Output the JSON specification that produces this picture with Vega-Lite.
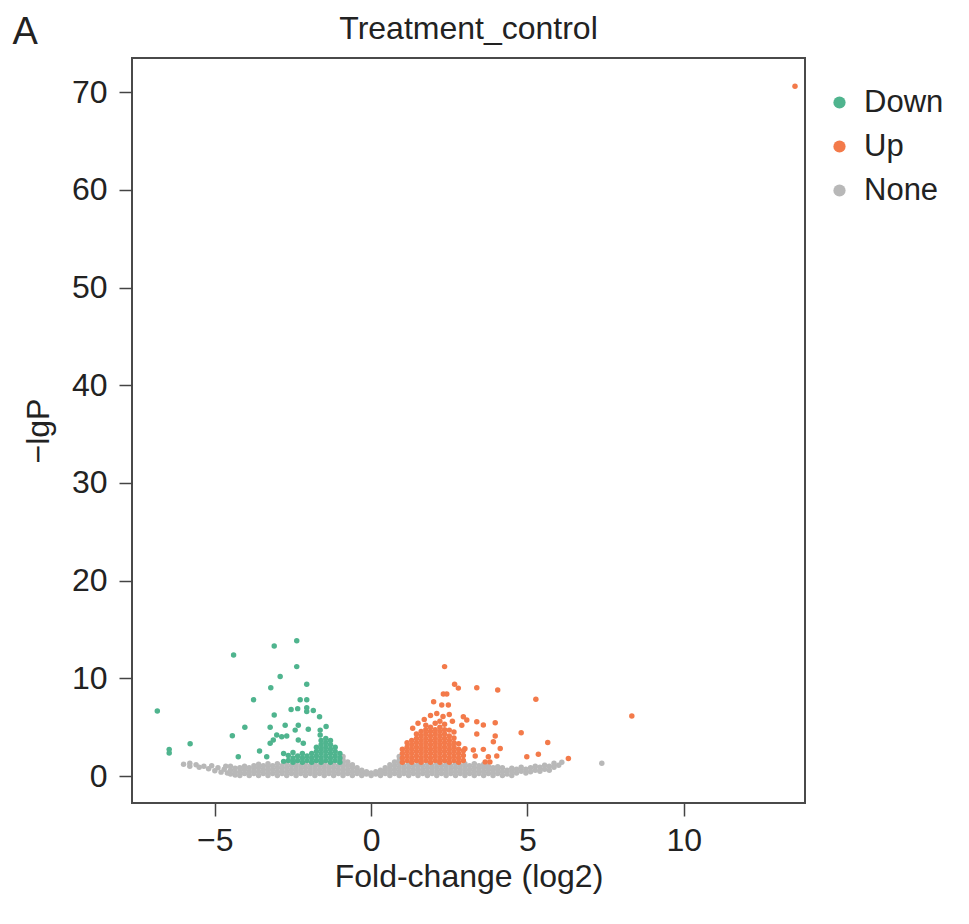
{
"$schema": "https://vega.github.io/schema/vega-lite/v6.json",
"width": 673, "height": 745,
"autosize": "none",
"padding": {"left": 132, "top": 58, "right": 164, "bottom": 121},
"background": "white",
"config": {
  "font": "Liberation Sans",
  "view": {"stroke": "#4a4a4a", "strokeWidth": 2},
  "axis": {"labelFont": "Liberation Sans", "labelFontSize": 32, "labelColor": "#222", "tickColor": "#444", "tickSize": 13, "tickWidth": 1.5, "domain": false, "grid": false, "titleFont": "Liberation Sans", "titleFontSize": 32, "titleFontWeight": "normal", "titleColor": "#222"},
  "legend": {"labelFont": "Liberation Sans", "labelFontSize": 31, "labelColor": "#222"}
},
"title": {"text": "Treatment_control", "font": "Liberation Sans", "fontSize": 32, "fontWeight": "normal", "color": "#222", "anchor": "middle", "baseline": "alphabetic", "offset": 0, "dy": 58},
"layer": [
{
"data": {"values": [
{"x":-6.0,"y":1.2,"g":"None"},{"x":-5.8,"y":1.0,"g":"None"},{"x":-5.8,"y":1.3,"g":"None"},{"x":-5.6,"y":1.15,"g":"None"},{"x":-5.5,"y":0.9,"g":"None"},{"x":-5.35,"y":1.0,"g":"None"},{"x":-5.2,"y":0.75,"g":"None"},{"x":-5.1,"y":1.05,"g":"None"},{"x":-5.0,"y":0.55,"g":"None"},{"x":-4.9,"y":0.85,"g":"None"},{"x":-4.8,"y":0.4,"g":"None"},{"x":-4.7,"y":0.7,"g":"None"},{"x":-4.65,"y":1.0,"g":"None"},{"x":-4.6,"y":0.3,"g":"None"},
{"x":-4.5,"y":0.2,"g":"None"},{"x":-4.5,"y":0.6,"g":"None"},{"x":-4.5,"y":1.0,"g":"None"},
{"x":-4.35,"y":0.1,"g":"None"},{"x":-4.35,"y":0.4,"g":"None"},{"x":-4.35,"y":0.8,"g":"None"},
{"x":-4.2,"y":0.05,"g":"None"},{"x":-4.2,"y":0.45,"g":"None"},{"x":-4.2,"y":0.85,"g":"None"},
{"x":-4.05,"y":0.25,"g":"None"},{"x":-4.05,"y":0.65,"g":"None"},{"x":-4.05,"y":1.0,"g":"None"},
{"x":-3.9,"y":0.05,"g":"None"},{"x":-3.9,"y":0.45,"g":"None"},{"x":-3.9,"y":0.85,"g":"None"},
{"x":-3.75,"y":0.25,"g":"None"},{"x":-3.75,"y":0.65,"g":"None"},{"x":-3.75,"y":1.05,"g":"None"},
{"x":-3.6,"y":0.05,"g":"None"},{"x":-3.6,"y":0.45,"g":"None"},{"x":-3.6,"y":0.85,"g":"None"},{"x":-3.6,"y":1.2,"g":"None"},
{"x":-3.45,"y":0.25,"g":"None"},{"x":-3.45,"y":0.65,"g":"None"},{"x":-3.45,"y":1.05,"g":"None"},
{"x":-3.3,"y":0.05,"g":"None"},{"x":-3.3,"y":0.45,"g":"None"},{"x":-3.3,"y":0.85,"g":"None"},{"x":-3.3,"y":1.25,"g":"None"},
{"x":-3.15,"y":0.25,"g":"None"},{"x":-3.15,"y":0.65,"g":"None"},{"x":-3.15,"y":1.05,"g":"None"},
{"x":-3.0,"y":0.05,"g":"None"},{"x":-3.0,"y":0.45,"g":"None"},{"x":-3.0,"y":0.85,"g":"None"},{"x":-3.0,"y":1.25,"g":"None"},
{"x":-2.85,"y":0.25,"g":"None"},{"x":-2.85,"y":0.65,"g":"None"},{"x":-2.85,"y":1.05,"g":"None"},
{"x":-2.7,"y":0.05,"g":"None"},{"x":-2.7,"y":0.45,"g":"None"},{"x":-2.7,"y":0.85,"g":"None"},{"x":-2.7,"y":1.25,"g":"None"},
{"x":-2.55,"y":0.25,"g":"None"},{"x":-2.55,"y":0.65,"g":"None"},{"x":-2.55,"y":1.05,"g":"None"},
{"x":-2.4,"y":0.05,"g":"None"},{"x":-2.4,"y":0.45,"g":"None"},{"x":-2.4,"y":0.85,"g":"None"},{"x":-2.4,"y":1.25,"g":"None"},
{"x":-2.25,"y":0.25,"g":"None"},{"x":-2.25,"y":0.65,"g":"None"},{"x":-2.25,"y":1.05,"g":"None"},
{"x":-2.1,"y":0.05,"g":"None"},{"x":-2.1,"y":0.45,"g":"None"},{"x":-2.1,"y":0.85,"g":"None"},{"x":-2.1,"y":1.25,"g":"None"},
{"x":-1.95,"y":0.25,"g":"None"},{"x":-1.95,"y":0.65,"g":"None"},{"x":-1.95,"y":1.05,"g":"None"},
{"x":-1.8,"y":0.05,"g":"None"},{"x":-1.8,"y":0.45,"g":"None"},{"x":-1.8,"y":0.85,"g":"None"},{"x":-1.8,"y":1.25,"g":"None"},
{"x":-1.65,"y":0.25,"g":"None"},{"x":-1.65,"y":0.65,"g":"None"},{"x":-1.65,"y":1.05,"g":"None"},
{"x":-1.5,"y":0.05,"g":"None"},{"x":-1.5,"y":0.45,"g":"None"},{"x":-1.5,"y":0.85,"g":"None"},{"x":-1.5,"y":1.25,"g":"None"},
{"x":-1.35,"y":0.25,"g":"None"},{"x":-1.35,"y":0.65,"g":"None"},{"x":-1.35,"y":1.05,"g":"None"},
{"x":-1.2,"y":0.05,"g":"None"},{"x":-1.2,"y":0.45,"g":"None"},{"x":-1.2,"y":0.85,"g":"None"},{"x":-1.2,"y":1.25,"g":"None"},
{"x":-1.05,"y":0.25,"g":"None"},{"x":-1.05,"y":0.65,"g":"None"},{"x":-1.05,"y":1.05,"g":"None"},
{"x":-0.9,"y":0.05,"g":"None"},{"x":-0.9,"y":0.45,"g":"None"},{"x":-0.9,"y":0.85,"g":"None"},{"x":-0.9,"y":1.25,"g":"None"},{"x":-0.9,"y":1.65,"g":"None"},{"x":-0.9,"y":2.0,"g":"None"},
{"x":-0.75,"y":0.25,"g":"None"},{"x":-0.75,"y":0.65,"g":"None"},{"x":-0.75,"y":1.05,"g":"None"},{"x":-0.75,"y":1.45,"g":"None"},
{"x":-0.6,"y":0.05,"g":"None"},{"x":-0.6,"y":0.45,"g":"None"},{"x":-0.6,"y":0.85,"g":"None"},{"x":-0.6,"y":1.15,"g":"None"},
{"x":-0.45,"y":0.25,"g":"None"},{"x":-0.45,"y":0.6,"g":"None"},{"x":-0.45,"y":0.85,"g":"None"},
{"x":-0.3,"y":0.05,"g":"None"},{"x":-0.3,"y":0.4,"g":"None"},{"x":-0.3,"y":0.6,"g":"None"},
{"x":-0.15,"y":0.2,"g":"None"},{"x":-0.15,"y":0.45,"g":"None"},
{"x":0,"y":0.05,"g":"None"},{"x":0,"y":0.3,"g":"None"},
{"x":0.15,"y":0.2,"g":"None"},{"x":0.15,"y":0.45,"g":"None"},
{"x":0.3,"y":0.05,"g":"None"},{"x":0.3,"y":0.4,"g":"None"},{"x":0.3,"y":0.6,"g":"None"},
{"x":0.45,"y":0.25,"g":"None"},{"x":0.45,"y":0.6,"g":"None"},{"x":0.45,"y":0.85,"g":"None"},
{"x":0.6,"y":0.05,"g":"None"},{"x":0.6,"y":0.45,"g":"None"},{"x":0.6,"y":0.85,"g":"None"},{"x":0.6,"y":1.15,"g":"None"},
{"x":0.75,"y":0.25,"g":"None"},{"x":0.75,"y":0.65,"g":"None"},{"x":0.75,"y":1.05,"g":"None"},{"x":0.75,"y":1.45,"g":"None"},
{"x":0.9,"y":0.05,"g":"None"},{"x":0.9,"y":0.45,"g":"None"},{"x":0.9,"y":0.85,"g":"None"},{"x":0.9,"y":1.25,"g":"None"},{"x":0.9,"y":1.65,"g":"None"},{"x":0.9,"y":2.0,"g":"None"},
{"x":1.05,"y":0.25,"g":"None"},{"x":1.05,"y":0.65,"g":"None"},{"x":1.05,"y":1.05,"g":"None"},
{"x":1.2,"y":0.05,"g":"None"},{"x":1.2,"y":0.45,"g":"None"},{"x":1.2,"y":0.85,"g":"None"},{"x":1.2,"y":1.25,"g":"None"},
{"x":1.35,"y":0.25,"g":"None"},{"x":1.35,"y":0.65,"g":"None"},{"x":1.35,"y":1.05,"g":"None"},
{"x":1.5,"y":0.05,"g":"None"},{"x":1.5,"y":0.45,"g":"None"},{"x":1.5,"y":0.85,"g":"None"},{"x":1.5,"y":1.25,"g":"None"},
{"x":1.65,"y":0.25,"g":"None"},{"x":1.65,"y":0.65,"g":"None"},{"x":1.65,"y":1.05,"g":"None"},
{"x":1.8,"y":0.05,"g":"None"},{"x":1.8,"y":0.45,"g":"None"},{"x":1.8,"y":0.85,"g":"None"},{"x":1.8,"y":1.25,"g":"None"},
{"x":1.95,"y":0.25,"g":"None"},{"x":1.95,"y":0.65,"g":"None"},{"x":1.95,"y":1.05,"g":"None"},
{"x":2.1,"y":0.05,"g":"None"},{"x":2.1,"y":0.45,"g":"None"},{"x":2.1,"y":0.85,"g":"None"},{"x":2.1,"y":1.25,"g":"None"},
{"x":2.25,"y":0.25,"g":"None"},{"x":2.25,"y":0.65,"g":"None"},{"x":2.25,"y":1.05,"g":"None"},
{"x":2.4,"y":0.05,"g":"None"},{"x":2.4,"y":0.45,"g":"None"},{"x":2.4,"y":0.85,"g":"None"},{"x":2.4,"y":1.25,"g":"None"},
{"x":2.55,"y":0.25,"g":"None"},{"x":2.55,"y":0.65,"g":"None"},{"x":2.55,"y":1.05,"g":"None"},
{"x":2.7,"y":0.05,"g":"None"},{"x":2.7,"y":0.45,"g":"None"},{"x":2.7,"y":0.85,"g":"None"},{"x":2.7,"y":1.25,"g":"None"},
{"x":2.85,"y":0.25,"g":"None"},{"x":2.85,"y":0.65,"g":"None"},{"x":2.85,"y":1.05,"g":"None"},
{"x":3.0,"y":0.05,"g":"None"},{"x":3.0,"y":0.45,"g":"None"},{"x":3.0,"y":0.85,"g":"None"},{"x":3.0,"y":1.25,"g":"None"},
{"x":3.15,"y":0.25,"g":"None"},{"x":3.15,"y":0.65,"g":"None"},{"x":3.15,"y":1.05,"g":"None"},
{"x":3.3,"y":0.05,"g":"None"},{"x":3.3,"y":0.45,"g":"None"},{"x":3.3,"y":0.85,"g":"None"},{"x":3.3,"y":1.25,"g":"None"},
{"x":3.45,"y":0.25,"g":"None"},{"x":3.45,"y":0.65,"g":"None"},{"x":3.45,"y":1.05,"g":"None"},
{"x":3.6,"y":0.05,"g":"None"},{"x":3.6,"y":0.45,"g":"None"},{"x":3.6,"y":0.85,"g":"None"},{"x":3.6,"y":1.2,"g":"None"},
{"x":3.75,"y":0.25,"g":"None"},{"x":3.75,"y":0.65,"g":"None"},{"x":3.75,"y":1.0,"g":"None"},
{"x":3.9,"y":0.05,"g":"None"},{"x":3.9,"y":0.45,"g":"None"},{"x":3.9,"y":0.85,"g":"None"},
{"x":4.05,"y":0.25,"g":"None"},{"x":4.05,"y":0.65,"g":"None"},{"x":4.05,"y":0.95,"g":"None"},
{"x":4.2,"y":0.05,"g":"None"},{"x":4.2,"y":0.45,"g":"None"},{"x":4.2,"y":0.85,"g":"None"},
{"x":4.35,"y":0.2,"g":"None"},{"x":4.35,"y":0.6,"g":"None"},
{"x":4.5,"y":0.05,"g":"None"},{"x":4.5,"y":0.45,"g":"None"},{"x":4.5,"y":0.8,"g":"None"},
{"x":4.65,"y":0.3,"g":"None"},{"x":4.65,"y":0.7,"g":"None"},{"x":4.8,"y":0.5,"g":"None"},{"x":4.8,"y":0.9,"g":"None"},{"x":4.95,"y":0.3,"g":"None"},{"x":4.95,"y":0.7,"g":"None"},{"x":5.1,"y":0.45,"g":"None"},{"x":5.1,"y":0.85,"g":"None"},{"x":5.25,"y":0.6,"g":"None"},{"x":5.25,"y":1.0,"g":"None"},{"x":5.4,"y":0.5,"g":"None"},{"x":5.4,"y":0.9,"g":"None"},{"x":5.55,"y":0.7,"g":"None"},{"x":5.55,"y":1.1,"g":"None"},{"x":5.7,"y":0.6,"g":"None"},{"x":5.7,"y":1.0,"g":"None"},{"x":5.85,"y":0.9,"g":"None"},{"x":5.85,"y":1.3,"g":"None"},{"x":6.0,"y":1.1,"g":"None"},{"x":6.1,"y":1.4,"g":"None"},{"x":7.38,"y":1.3,"g":"None"},

{"x":-6.84,"y":6.65,"g":"Down"},{"x":-6.46,"y":2.73,"g":"Down"},{"x":-6.46,"y":2.35,"g":"Down"},{"x":-5.79,"y":3.3,"g":"Down"},{"x":-4.4,"y":12.4,"g":"Down"},{"x":-3.1,"y":13.3,"g":"Down"},{"x":-2.38,"y":13.85,"g":"Down"},{"x":-2.38,"y":11.2,"g":"Down"},{"x":-2.91,"y":10.2,"g":"Down"},{"x":-3.21,"y":9.04,"g":"Down"},{"x":-2.06,"y":9.4,"g":"Down"},{"x":-3.76,"y":7.8,"g":"Down"},{"x":-2.27,"y":7.8,"g":"Down"},{"x":-2.06,"y":7.8,"g":"Down"},{"x":-2.56,"y":6.8,"g":"Down"},{"x":-2.35,"y":6.9,"g":"Down"},{"x":-2.06,"y":7.0,"g":"Down"},{"x":-2.06,"y":6.6,"g":"Down"},{"x":-1.85,"y":6.7,"g":"Down"},{"x":-3.1,"y":6.24,"g":"Down"},{"x":-1.65,"y":6.07,"g":"Down"},{"x":-4.04,"y":5.0,"g":"Down"},{"x":-4.44,"y":4.12,"g":"Down"},{"x":-4.25,"y":1.98,"g":"Down"},{"x":-3.57,"y":2.56,"g":"Down"},{"x":-3.34,"y":1.98,"g":"Down"},
{"x":-3.23,"y":5.0,"g":"Down"},{"x":-2.75,"y":5.2,"g":"Down"},{"x":-2.33,"y":5.2,"g":"Down"},{"x":-3.02,"y":4.2,"g":"Down"},{"x":-2.7,"y":4.1,"g":"Down"},{"x":-3.13,"y":3.7,"g":"Down"},{"x":-3.23,"y":3.35,"g":"Down"},{"x":-2.43,"y":4.7,"g":"Down"},{"x":-2.86,"y":4.02,"g":"Down"},{"x":-2.01,"y":4.8,"g":"Down"},{"x":-2.33,"y":3.7,"g":"Down"},{"x":-2.17,"y":3.35,"g":"Down"},{"x":-1.63,"y":4.7,"g":"Down"},{"x":-1.44,"y":5.06,"g":"Down"},{"x":-1.63,"y":4.2,"g":"Down"},
{"x":-1.0,"y":1.4,"g":"Down"},{"x":-1.0,"y":1.85,"g":"Down"},{"x":-1.0,"y":2.3,"g":"Down"},
{"x":-1.15,"y":1.6,"g":"Down"},{"x":-1.15,"y":2.05,"g":"Down"},{"x":-1.15,"y":2.5,"g":"Down"},{"x":-1.15,"y":2.95,"g":"Down"},
{"x":-1.3,"y":1.4,"g":"Down"},{"x":-1.3,"y":1.85,"g":"Down"},{"x":-1.3,"y":2.3,"g":"Down"},{"x":-1.3,"y":2.75,"g":"Down"},{"x":-1.3,"y":3.2,"g":"Down"},{"x":-1.3,"y":3.65,"g":"Down"},
{"x":-1.45,"y":1.6,"g":"Down"},{"x":-1.45,"y":2.05,"g":"Down"},{"x":-1.45,"y":2.5,"g":"Down"},{"x":-1.45,"y":2.95,"g":"Down"},{"x":-1.45,"y":3.4,"g":"Down"},{"x":-1.45,"y":3.85,"g":"Down"},
{"x":-1.6,"y":1.4,"g":"Down"},{"x":-1.6,"y":1.85,"g":"Down"},{"x":-1.6,"y":2.3,"g":"Down"},{"x":-1.6,"y":2.75,"g":"Down"},{"x":-1.6,"y":3.2,"g":"Down"},{"x":-1.6,"y":3.65,"g":"Down"},
{"x":-1.75,"y":1.6,"g":"Down"},{"x":-1.75,"y":2.05,"g":"Down"},{"x":-1.75,"y":2.5,"g":"Down"},{"x":-1.75,"y":2.95,"g":"Down"},
{"x":-1.9,"y":1.4,"g":"Down"},{"x":-1.9,"y":1.85,"g":"Down"},{"x":-1.9,"y":2.3,"g":"Down"},
{"x":-2.05,"y":1.6,"g":"Down"},{"x":-2.05,"y":2.05,"g":"Down"},
{"x":-2.2,"y":1.4,"g":"Down"},{"x":-2.2,"y":1.85,"g":"Down"},{"x":-2.2,"y":2.3,"g":"Down"},
{"x":-2.35,"y":1.6,"g":"Down"},{"x":-2.35,"y":2.05,"g":"Down"},
{"x":-2.5,"y":1.4,"g":"Down"},{"x":-2.5,"y":1.85,"g":"Down"},{"x":-2.5,"y":2.4,"g":"Down"},
{"x":-2.65,"y":1.6,"g":"Down"},{"x":-2.65,"y":2.1,"g":"Down"},
{"x":-2.8,"y":1.5,"g":"Down"},{"x":-2.8,"y":2.3,"g":"Down"},

{"x":2.35,"y":11.2,"g":"Up"},{"x":2.67,"y":9.4,"g":"Up"},{"x":2.79,"y":9.0,"g":"Up"},{"x":3.38,"y":9.04,"g":"Up"},{"x":4.05,"y":8.8,"g":"Up"},{"x":5.27,"y":7.85,"g":"Up"},{"x":2.31,"y":8.4,"g":"Up"},{"x":2.42,"y":8.4,"g":"Up"},{"x":2.0,"y":7.6,"g":"Up"},{"x":2.26,"y":7.27,"g":"Up"},{"x":2.47,"y":7.27,"g":"Up"},{"x":2.95,"y":6.07,"g":"Up"},{"x":3.06,"y":5.73,"g":"Up"},{"x":3.38,"y":5.56,"g":"Up"},{"x":3.59,"y":5.22,"g":"Up"},{"x":3.97,"y":5.46,"g":"Up"},{"x":1.33,"y":4.88,"g":"Up"},{"x":3.38,"y":4.3,"g":"Up"},{"x":3.97,"y":4.09,"g":"Up"},{"x":3.91,"y":3.5,"g":"Up"},{"x":4.8,"y":4.43,"g":"Up"},{"x":5.65,"y":3.43,"g":"Up"},{"x":4.13,"y":2.83,"g":"Up"},{"x":3.0,"y":2.8,"g":"Up"},{"x":3.27,"y":2.66,"g":"Up"},{"x":3.59,"y":2.73,"g":"Up"},{"x":3.33,"y":2.05,"g":"Up"},{"x":3.75,"y":1.98,"g":"Up"},{"x":4.02,"y":2.05,"g":"Up"},{"x":4.98,"y":1.98,"g":"Up"},{"x":5.35,"y":2.22,"g":"Up"},{"x":6.31,"y":1.8,"g":"Up"},{"x":3.65,"y":1.45,"g":"Up"},{"x":3.8,"y":1.45,"g":"Up"},{"x":8.34,"y":6.14,"g":"Up"},{"x":13.56,"y":70.6,"g":"Up"},
{"x":1.7,"y":5.8,"g":"Up"},{"x":1.9,"y":6.2,"g":"Up"},{"x":2.1,"y":6.4,"g":"Up"},{"x":2.3,"y":6.1,"g":"Up"},{"x":2.5,"y":6.3,"g":"Up"},{"x":2.9,"y":5.2,"g":"Up"},{"x":1.5,"y":5.4,"g":"Up"},{"x":2.6,"y":5.6,"g":"Up"},
{"x":1.0,"y":1.4,"g":"Up"},{"x":1.0,"y":1.85,"g":"Up"},{"x":1.0,"y":2.3,"g":"Up"},{"x":1.0,"y":2.75,"g":"Up"},
{"x":1.15,"y":1.6,"g":"Up"},{"x":1.15,"y":2.05,"g":"Up"},{"x":1.15,"y":2.5,"g":"Up"},{"x":1.15,"y":2.95,"g":"Up"},{"x":1.15,"y":3.4,"g":"Up"},
{"x":1.3,"y":1.4,"g":"Up"},{"x":1.3,"y":1.85,"g":"Up"},{"x":1.3,"y":2.3,"g":"Up"},{"x":1.3,"y":2.75,"g":"Up"},{"x":1.3,"y":3.2,"g":"Up"},{"x":1.3,"y":3.65,"g":"Up"},
{"x":1.45,"y":1.6,"g":"Up"},{"x":1.45,"y":2.05,"g":"Up"},{"x":1.45,"y":2.5,"g":"Up"},{"x":1.45,"y":2.95,"g":"Up"},{"x":1.45,"y":3.4,"g":"Up"},{"x":1.45,"y":3.85,"g":"Up"},{"x":1.45,"y":4.3,"g":"Up"},
{"x":1.6,"y":1.4,"g":"Up"},{"x":1.6,"y":1.85,"g":"Up"},{"x":1.6,"y":2.3,"g":"Up"},{"x":1.6,"y":2.75,"g":"Up"},{"x":1.6,"y":3.2,"g":"Up"},{"x":1.6,"y":3.65,"g":"Up"},{"x":1.6,"y":4.1,"g":"Up"},{"x":1.6,"y":4.55,"g":"Up"},
{"x":1.75,"y":1.6,"g":"Up"},{"x":1.75,"y":2.05,"g":"Up"},{"x":1.75,"y":2.5,"g":"Up"},{"x":1.75,"y":2.95,"g":"Up"},{"x":1.75,"y":3.4,"g":"Up"},{"x":1.75,"y":3.85,"g":"Up"},{"x":1.75,"y":4.3,"g":"Up"},{"x":1.75,"y":4.75,"g":"Up"},{"x":1.75,"y":5.2,"g":"Up"},
{"x":1.9,"y":1.4,"g":"Up"},{"x":1.9,"y":1.85,"g":"Up"},{"x":1.9,"y":2.3,"g":"Up"},{"x":1.9,"y":2.75,"g":"Up"},{"x":1.9,"y":3.2,"g":"Up"},{"x":1.9,"y":3.65,"g":"Up"},{"x":1.9,"y":4.1,"g":"Up"},{"x":1.9,"y":4.55,"g":"Up"},{"x":1.9,"y":5.0,"g":"Up"},
{"x":2.05,"y":1.6,"g":"Up"},{"x":2.05,"y":2.05,"g":"Up"},{"x":2.05,"y":2.5,"g":"Up"},{"x":2.05,"y":2.95,"g":"Up"},{"x":2.05,"y":3.4,"g":"Up"},{"x":2.05,"y":3.85,"g":"Up"},{"x":2.05,"y":4.3,"g":"Up"},{"x":2.05,"y":4.75,"g":"Up"},{"x":2.05,"y":5.4,"g":"Up"},
{"x":2.2,"y":1.4,"g":"Up"},{"x":2.2,"y":1.85,"g":"Up"},{"x":2.2,"y":2.3,"g":"Up"},{"x":2.2,"y":2.75,"g":"Up"},{"x":2.2,"y":3.2,"g":"Up"},{"x":2.2,"y":3.65,"g":"Up"},{"x":2.2,"y":4.1,"g":"Up"},{"x":2.2,"y":4.55,"g":"Up"},{"x":2.2,"y":5.0,"g":"Up"},{"x":2.2,"y":5.6,"g":"Up"},
{"x":2.35,"y":1.6,"g":"Up"},{"x":2.35,"y":2.05,"g":"Up"},{"x":2.35,"y":2.5,"g":"Up"},{"x":2.35,"y":2.95,"g":"Up"},{"x":2.35,"y":3.4,"g":"Up"},{"x":2.35,"y":3.85,"g":"Up"},{"x":2.35,"y":4.3,"g":"Up"},{"x":2.35,"y":4.75,"g":"Up"},{"x":2.35,"y":5.3,"g":"Up"},
{"x":2.5,"y":1.4,"g":"Up"},{"x":2.5,"y":1.85,"g":"Up"},{"x":2.5,"y":2.3,"g":"Up"},{"x":2.5,"y":2.75,"g":"Up"},{"x":2.5,"y":3.2,"g":"Up"},{"x":2.5,"y":3.65,"g":"Up"},{"x":2.5,"y":4.1,"g":"Up"},{"x":2.5,"y":4.7,"g":"Up"},
{"x":2.65,"y":1.6,"g":"Up"},{"x":2.65,"y":2.05,"g":"Up"},{"x":2.65,"y":2.5,"g":"Up"},{"x":2.65,"y":2.95,"g":"Up"},{"x":2.65,"y":3.4,"g":"Up"},{"x":2.65,"y":3.9,"g":"Up"},{"x":2.65,"y":4.5,"g":"Up"},
{"x":2.8,"y":1.4,"g":"Up"},{"x":2.8,"y":1.85,"g":"Up"},{"x":2.8,"y":2.3,"g":"Up"},{"x":2.8,"y":2.75,"g":"Up"},{"x":2.8,"y":3.3,"g":"Up"},
{"x":2.95,"y":1.6,"g":"Up"},{"x":2.95,"y":2.1,"g":"Up"},{"x":2.95,"y":2.6,"g":"Up"}
]},
"mark": {"type": "point", "filled": true, "size": 30, "opacity": 1, "strokeWidth": 0},
"encoding": {
  "x": {"field": "x", "type": "quantitative", "scale": {"domain": [-7.65, 13.88], "nice": false, "zero": false},
        "axis": {"orient": "bottom", "values": [-5, 0, 5, 10], "title": "Fold-change (log2)", "labelPadding": 9, "titlePadding": 5}},
  "y": {"field": "y", "type": "quantitative", "scale": {"domain": [-2.76, 73.5], "nice": false, "zero": false},
        "axis": {"values": [0, 10, 20, 30, 40, 50, 60, 70], "title": "−lgP", "labelPadding": 12, "titlePadding": 16}},
  "color": {"field": "g", "type": "nominal",
            "scale": {"domain": ["Down", "Up", "None"], "range": ["#4FB48E", "#F37A4A", "#B8B8B8"]},
            "legend": {"title": null, "orient": "none", "legendX": 692, "legendY": 29, "symbolType": "circle", "symbolSize": 150, "symbolStrokeWidth": 0, "labelOffset": 9, "rowPadding": 12, "padding": 0}}
}
},
{
"data": {"values": [{"x": 0}]},
"mark": {"type": "point", "opacity": 0},
"encoding": {
  "x": {"field": "x", "type": "quantitative",
        "axis": {"orient": "top", "title": "A", "labels": false, "ticks": false, "domain": false, "grid": false, "titleX": -120, "titleY": -15, "titleAlign": "left", "titleAnchor": null, "titleAngle": 0, "titleBaseline": "alphabetic", "titleFontSize": 38}}
}
}
],
"resolve": {"axis": {"x": "independent"}}
}
